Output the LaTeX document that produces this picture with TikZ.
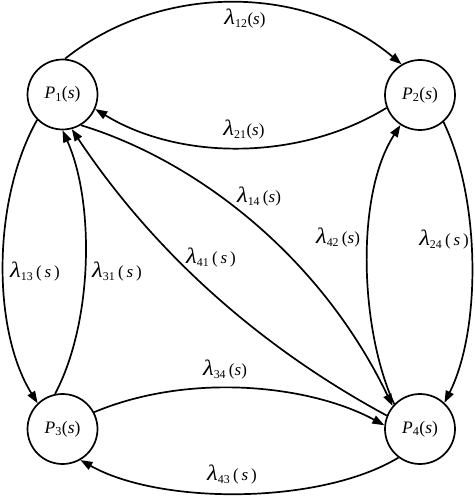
\documentclass[tikz,border=0pt]{standalone}
\usepackage{graphicx}
\usepackage{fontspec}
\setmainfont{Liberation Serif}
\usetikzlibrary{arrows.meta}
\newcommand\mylam[1]{\scalebox{1.45}[1.3]{\textit{λ}}\textsubscript{#1}}
\begin{document}
\begin{tikzpicture}[x=1pt,y=-1pt,
  state/.style={circle,draw,line width=1.7pt,minimum size=70pt,inner sep=0pt,font=\fontsize{17.5}{20}\selectfont},
  edge/.style={line width=1.7pt,-{Triangle[length=12pt,width=8.5pt]}},
  lab/.style={font=\fontsize{17}{20}\selectfont,inner sep=0pt}]
\useasboundingbox (0,0) rectangle (474,497);
\node[state] (P1) at (62.5,94.5) {\textit{P}\textsubscript{1}(\textit{s})};
\node[state] (P2) at (420,95) {\textit{P}\textsubscript{2}(\textit{s})};
\node[state] (P3) at (62.5,429) {\textit{P}\textsubscript{3}(\textit{s})};
\node[state] (P4) at (420,429) {\textit{P}\textsubscript{4}(\textit{s})};
% P1 <-> P2
\draw[edge] (P1.86) .. controls (160,-17) and (305,-17) .. (P2.121);
\draw[edge] (P2.201) .. controls (300,161) and (180,161) .. (P1.336);
% P1 <-> P3
\draw[edge] (P1.225) .. controls (-8,200) and (-8,330) .. (P3.134);
\draw[edge] (P3.102) .. controls (94,320) and (94,200) .. (P1.270);
% P1 <-> P4
\draw[edge] (P1.301) .. controls (195,160) and (320,255) .. (P4.140);
\draw[edge] (P4.158) .. controls (258,346) and (153,251) .. (P1.285);
% P2 <-> P4
\draw[edge] (P2.311) .. controls (481,200) and (481,330) .. (P4.47);
\draw[edge] (P4.136) .. controls (360,330) and (355,195) .. (P2.237);
% P3 <-> P4
\draw[edge] (P3.28) .. controls (190,372) and (310,385) .. (P4.174);
\draw[edge] (P4.233) .. controls (320,505) and (160,505) .. (P3.300);
% labels
\node[lab] (l12) at (245,19) {\mylam{12}(\textit{s})};
\node[lab] (l21) at (244,130) {\mylam{21}(\textit{s})};
\node[lab] (l14) at (259,197) {\mylam{14}\,(\textit{s})};
\node[lab] (l41) at (211,258) {\mylam{41}\,(\,\textit{s}\,)};
\node[lab] (l42) at (338,238) {\mylam{42}\,(\textit{s})};
\node[lab] (l24) at (444,240) {\mylam{24}\,(\,\textit{s}\,)};
\node[lab] (l13) at (35,272) {\mylam{13}\,(\,\textit{s}\,)};
\node[lab] (l31) at (117,272) {\mylam{31}\,(\,\textit{s}\,)};
\node[lab] (l34) at (225,370) {\mylam{34}\,(\textit{s})};
\node[lab] (l43) at (232,475) {\mylam{43}\,(\,\textit{s}\,)};
\end{tikzpicture}
\end{document}
